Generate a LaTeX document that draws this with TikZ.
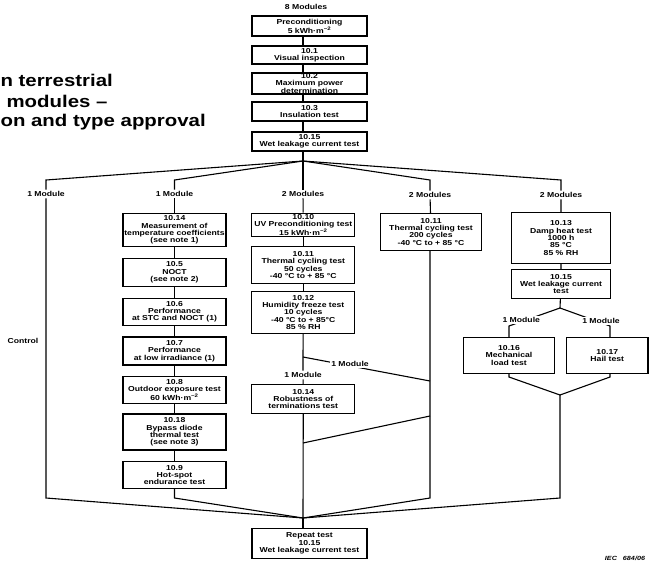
\documentclass[tikz,border=0pt]{standalone}
\usepackage{fontspec}
\setmainfont{Liberation Sans}[FakeStretch=1.2]

\begin{document}
\begin{tikzpicture}[x=1pt, y=-1pt, line width=1.1pt,
	box/.style={draw, align=center, inner sep=1pt, font=\fontsize{7.2}{7.4}\selectfont\bfseries},
	lbl/.style={fill=white, inner sep=1.2pt, font=\fontsize{7.2}{7.4}\selectfont\bfseries},
	head/.style={anchor=west, inner sep=0pt, font=\fontsize{17}{20}\selectfont\bfseries}]
	\useasboundingbox (0,0) rectangle (649,566);
	% header, cut off at the left edge
	\node[head] (t1) at (0,80) {n terrestrial};
	\node[head] (t2) at (6,101) {modules –};
	\node[head] (t3) at (0,122) {on and type approval};
	% main column
	\coordinate (br) at (303,161);
	\coordinate (top) at (0,180);
	\coordinate (low) at (0,498);
	\coordinate (j) at (303,518);
	\node[lbl] (n8) at (306,7) {8 Modules};
	\node[box, minimum width=115pt, minimum height=20pt] (pre) at (309.5,26) {Preconditioning\\5 kWh·m\textsuperscript{−2}};
	\node[box, minimum width=115pt, minimum height=18pt] (v1) at (309.5,55) {10.1\\Visual inspection};
	\node[box, minimum width=115pt, minimum height=21pt, inner ysep=0pt, font=\fontsize{7.2}{6.6}\selectfont\bfseries] (v2) at (309.5,83.5) {10.2\\Maximum power\\determination};
	\node[box, minimum width=115pt, minimum height=19pt] (v3) at (309.5,111.5) {10.3\\Insulation test};
	\node[box, minimum width=115pt, minimum height=19pt] (v4) at (309.5,141.5) {10.15\\Wet leakage current test};
	\foreach \a/\b in {pre/v1,v1/v2,v2/v3,v3/v4} \draw (\a.south -| br) -- (\b.north -| br);
	\draw (v4.south -| br) -- (br);
	% split into five groups
	\node[lbl] (m1) at (46,194) {1 Module};
	\node[lbl] (m2) at (174.5,194) {1 Module};
	\node[lbl] (m3) at (303,194) {2 Modules};
	\node[lbl] (m4) at (430,195) {2 Modules};
	\node[lbl] (m5) at (561,195) {2 Modules};
	\foreach \m in {m1,m2,m4,m5} \draw (br) -- (\m.north |- top) -- (\m.north);
	\draw (br) -- (m3);
	% control module
	\node[lbl] (ctrl) at (23,341) {Control};
	\draw (m1) -- (m1 |- low) -- (j);
	% performance sequence
	\foreach \n/\y/\h/\t in {b1/230/33/{10.14\\Measurement of\\temperature coefficients\\(see note 1)},
		b2/272.5/28/{10.5\\NOCT\\(see note 2)}, b3/311.7/27/{10.6\\Performance\\at STC and NOCT (1)},
		b4/351/28/{10.7\\Performance\\at low irradiance (1)}, b5/390/27/{10.8\\Outdoor exposure test\\60 kWh·m\textsuperscript{−2}},
		b6/432/36/{10.18\\Bypass diode\\thermal test\\(see note 3)}, b7/475/27/{10.9\\Hot-spot\\endurance test}}
		\node[box, minimum width=103pt, minimum height=\h pt] (\n) at (174.5,\y) {\t};
	\foreach \a/\b in {m2/b1,b1/b2,b2/b3,b3/b4,b4/b5,b5/b6,b6/b7} \draw (\a) -- (\b);
	\draw (b7) -- (b7 |- low) -- (j);
	% UV, cycling and freeze
	\foreach \n/\y/\h/\t in {c1/225/23.4/{10.10\\UV Preconditioning test\\15 kWh·m\textsuperscript{−2}},
		c2/265/36.6/{10.11\\Thermal cycling test\\50 cycles\\-40 °C to + 85 °C},
		c3/312.5/41.6/{10.12\\Humidity freeze test\\10 cycles\\-40 °C to + 85°C\\85 \% RH},
		c4/399/28.3/{10.14\\Robustness of\\terminations test}}
		\node[box, minimum width=103pt, minimum height=\h pt] (\n) at (303.3,\y) {\t};
	\coordinate (s3) at (303,357);
	\coordinate (x1) at (430,381);
	\coordinate (x2) at (430,416);
	\coordinate (x3) at (303,443);
	\node[lbl] (n3) at (303,375) {1 Module};
	\foreach \a/\b in {m3/c1,c1/c2,c2/c3} \draw (\a) -- (\b);
	\draw (c3) -- (s3) -- (n3);
	\draw (n3) -- (c4);
	\draw (c4) -- (j);
	\draw (s3) -- node[lbl, pos=0.37, yshift=2pt] (n3b) {1 Module} (x1);
	\draw (x2) -- (x3);
	% 200 thermal cycles
	\node[box, minimum width=101.6pt, minimum height=36.7pt] (d1) at (431,231.7) {10.11\\Thermal cycling test\\200 cycles\\-40 °C to + 85 °C};
	\draw (m4) -- (d1);
	\draw (d1.south -| m4) -- (m4 |- low) -- (j);
	% damp heat, then mechanical load and hail
	\node[box, minimum width=98.3pt, minimum height=50.6pt] (e1) at (561,238) {10.13\\Damp heat test\\1000 h\\85 °C\\85 \% RH};
	\node[box, minimum width=98.3pt, minimum height=28.3pt] (e2) at (561,284) {10.15\\Wet leakage current\\test};
	\node[box, minimum width=91.7pt, minimum height=36pt] (f1) at (509,355.3) {10.16\\Mechanical\\load test};
	\node[box, minimum width=81.3pt, minimum height=36pt] (f2) at (607.3,355.3) {10.17\\Hail test};
	\coordinate (f) at (560,308);
	\coordinate (k1) at (509,326);
	\coordinate (k2) at (610,326);
	\coordinate (g1) at (509,377);
	\coordinate (g2) at (610,377);
	\coordinate (g) at (560,395);
	\draw (m5) -- (e1) -- (e2) -- (f);
	\draw (f) -- node[lbl, pos=0.76, yshift=2pt] (n5a) {1 Module} (k1) -- (f1);
	\draw (f) -- node[lbl, pos=0.82, yshift=2pt] (n5b) {1 Module} (k2) -- (f2.north -| k2);
	\draw (f1) -- (g1) -- (g) -- (g2) -- (f2.south -| g2);
	\draw (g) -- (g |- low) -- (j);
	% final check
	\node[box, minimum width=115pt, minimum height=30pt] (rep) at (309.5,543.3) {Repeat test\\10.15\\Wet leakage current test};
	\draw (j) -- (rep.north -| j);
	\node[font=\fontsize{6}{6}\selectfont\bfseries\itshape] (iec) at (625,558) {IEC\quad 684/06};
\end{tikzpicture}
\end{document}
